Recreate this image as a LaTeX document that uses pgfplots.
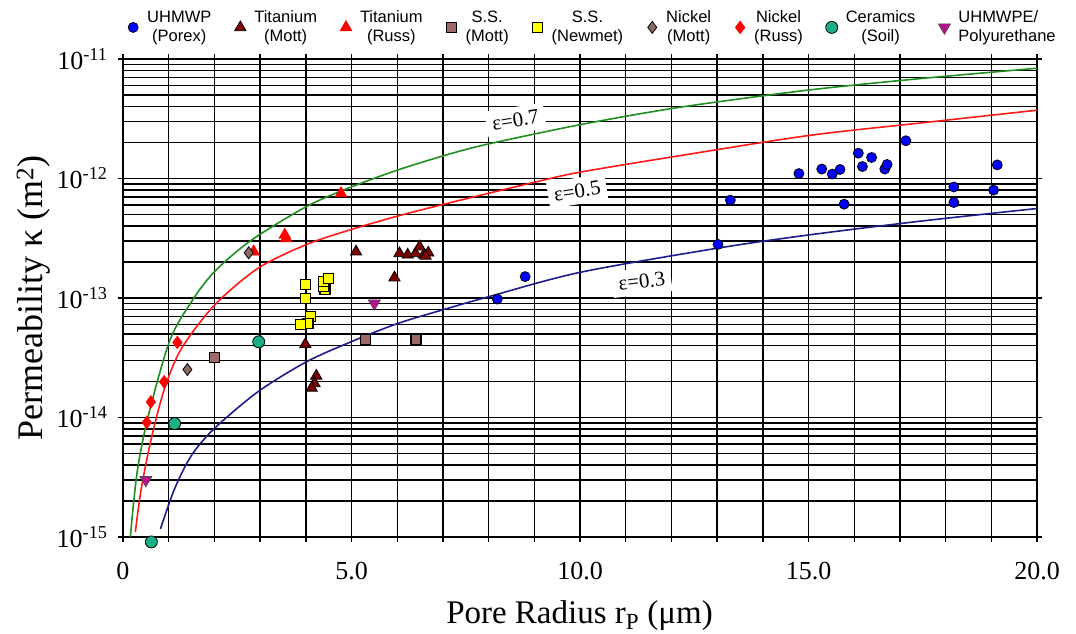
\documentclass[border=0pt]{standalone}
\usepackage{pgfplots}
\pgfplotsset{compat=1.18}
\usepackage{fontspec}
\setmainfont{Liberation Serif}
\newfontfamily\legfont{Liberation Sans}
\definecolor{cBlue}{HTML}{0000FF}
\definecolor{cDRed}{HTML}{7F0000}
\definecolor{cRed}{HTML}{FF0000}
\definecolor{cSSM}{HTML}{9C6A6A}
\definecolor{cYel}{HTML}{FFFF00}
\definecolor{cNiM}{HTML}{8B6B61}
\definecolor{cCer}{HTML}{1AAF87}
\definecolor{cMag}{HTML}{B4148C}
\definecolor{cGreenL}{HTML}{1F8F1F}
\definecolor{cRedL}{HTML}{FF1A1A}
\definecolor{cNavyL}{HTML}{1C1C8C}
\newcommand{\lent}[1]{\begin{tabular}{@{}c@{}}#1\end{tabular}\hspace*{13pt}}
\begin{document}
\begin{tikzpicture}
\path[use as bounding box] (-123pt,-97pt) rectangle (953pt,537pt);
\begin{axis}[
  scale only axis, width=914pt, height=478pt,
  xmin=0, xmax=20, ymin=1e-15, ymax=1e-11, ymode=log,
  xtick={0,1,...,20},
  xticklabels={0,,,,,5.0,,,,,10.0,,,,,15.0,,,,,20.0},
  ytick={1e-15,1e-14,1e-13,1e-12,1e-11},
  yticklabels={10\textsuperscript{-15},10\textsuperscript{-14},10\textsuperscript{-13},10\textsuperscript{-12},10\textsuperscript{-11}},
  minor ytick={2e-15,3e-15,4e-15,5e-15,6e-15,7e-15,8e-15,9e-15,
               2e-14,3e-14,4e-14,5e-14,6e-14,7e-14,8e-14,9e-14,
               2e-13,3e-13,4e-13,5e-13,6e-13,7e-13,8e-13,9e-13,
               2e-12,3e-12,4e-12,5e-12,6e-12,7e-12,8e-12,9e-12},
  grid=both,
  major grid style={black, line width=1.4pt},
  minor grid style={black, line width=1.4pt},
  axis line style={black, line width=1.6pt},
  tick align=center, major tick length=10pt, minor tick length=0pt,
  tick style={black, line width=1.4pt},
  ticklabel style={font=\fontsize{26}{30}\selectfont},
  xticklabel style={yshift=-17pt},
  yticklabel style={xshift=-7pt},
  xlabel={Pore Radius r\textsubscript{P} (μm)},
  ylabel={Permeability κ (m\textsuperscript{2})},
  xlabel style={font=\fontsize{33}{38}\selectfont, at={(axis description cs:0.4995,-0.164)}, anchor=center},
  ylabel style={font=\fontsize{36}{40}\selectfont, at={(axis description cs:-0.098,0.5)}, anchor=center},
  clip=false,
  legend columns=9,
  legend style={font=\legfont\fontsize{16.5}{19}\selectfont, draw=none, fill=none,
    at={(axis description cs:0,1)}, anchor=south west, xshift=-7pt, yshift=21pt},
  legend image code/.code={\path[draw=none,fill=none] (0pt,-6pt) -- (26pt,-6pt);
     \draw[mark repeat=2,mark phase=2,#1] plot coordinates {(0pt,-6pt) (14pt,-6pt) (26pt,-6pt)};},
]
% model curves
\addplot[forget plot, cGreenL, line width=1.6pt, smooth] coordinates {
 (0.16,1.0e-15) (0.31,3.50e-15) (0.55,1.02e-14) (1.02,4.37e-14) (1.5,9.33e-14) (2.0,1.66e-13)
 (2.81,3.05e-13) (4.01,5.81e-13) (4.92,8.28e-13) (6.01,1.178e-12) (7.1,1.585e-12) (7.98,1.94e-12)
 (10.0,2.82e-12) (12.17,3.94e-12) (15.0,5.50e-12) (17.5,6.89e-12) (20.0,8.37e-12)};
\addplot[forget plot, cRedL, line width=1.6pt, smooth] coordinates {
 (0.27,1.10e-15) (0.40,2.54e-15) (0.62,6.7e-15) (0.91,1.75e-14) (1.28,3.78e-14) (2.0,8.7e-14)
 (2.95,1.77e-13) (4.01,2.80e-13) (4.99,3.74e-13) (6.01,4.85e-13) (7.1,6.2e-13) (9.0,9.3e-13)
 (10.0,1.13e-12) (12.17,1.55e-12) (15.0,2.29e-12) (17.5,2.93e-12) (20.0,3.73e-12)};
\addplot[forget plot, cNavyL, line width=1.6pt, smooth] coordinates {
 (0.82,1.17e-15) (1.13,2.54e-15) (1.5,4.83e-15) (2.0,8.1e-15) (2.95,1.64e-14) (4.01,2.92e-14)
 (4.99,4.30e-14) (6.01,6.12e-14) (7.1,8.18e-14) (7.98,1.02e-13) (10.0,1.64e-13) (13.0,2.61e-13)
 (15.0,3.37e-13) (17.5,4.42e-13) (20.0,5.61e-13)};
\node[fill=white, rotate=9, font=\fontsize{21}{24}\selectfont, inner sep=6pt] at (axis cs:8.59,3.08e-12) {ε=0.7};
\node[fill=white, rotate=9, font=\fontsize{21}{24}\selectfont, inner sep=6pt] at (axis cs:9.94,7.85e-13) {ε=0.5};
\node[fill=white, rotate=7, font=\fontsize{21}{24}\selectfont, inner sep=6pt] at (axis cs:11.35,1.38e-13) {ε=0.3};
% data
\addplot[only marks, mark=*, mark size=5pt, mark options={fill=cBlue, draw=black, line width=0.8pt}] coordinates {
 (8.19,9.8e-14) (8.80,1.51e-13) (13.02,2.81e-13) (13.29,6.6e-13) (14.79,1.10e-12) (15.29,1.20e-12)
 (15.52,1.09e-12) (15.69,1.19e-12) (15.78,6.1e-13) (16.09,1.63e-12) (16.18,1.26e-12) (16.38,1.50e-12)
 (16.67,1.20e-12) (16.72,1.31e-12) (17.13,2.07e-12) (18.18,8.5e-13) (18.18,6.3e-13) (19.05,8.0e-13)
 (19.13,1.30e-12)};
\addlegendentry{\lent{UHMWP\\(Porex)}}
\addplot[only marks, mark=triangle*, mark size=6.5pt, mark options={fill=cDRed, draw=black, line width=0.8pt}] coordinates {
 (5.10,2.44e-13) (6.05,2.36e-13) (6.23,2.30e-13) (6.40,2.36e-13) (6.49,2.69e-13) (6.58,2.30e-13)
 (6.68,2.39e-13) (6.62,2.25e-13) (5.94,1.48e-13) (3.99,4.1e-14) (4.23,2.23e-14) (4.19,1.93e-14)
 (4.13,1.77e-14)};
\addlegendentry{\lent{Titanium\\(Mott)}}
\addplot[only marks, mark=triangle*, mark size=7pt, mark options={fill=cRed, draw=cRed}] coordinates {
 (4.77,7.5e-13) (3.54,3.37e-13) (3.57,3.16e-13) (2.86,2.44e-13)};
\addlegendentry{\lent{Titanium\\(Russ)}}
\addplot[only marks, mark=square*, mark size=5pt, mark options={fill=cSSM, draw=black, line width=1.2pt}] coordinates {
 (2.0,3.2e-14) (5.3,4.5e-14) (6.41,4.5e-14)};
\addlegendentry{\lent{S.S.\\(Mott)}}
\addplot[only marks, mark=square*, mark size=5pt, mark options={fill=cYel, draw=black, line width=1.2pt}] coordinates {
 (4.0,1.30e-13) (4.0,9.9e-14) (4.1,6.97e-14) (4.05,6.1e-14) (3.88,6.0e-14) (4.42,1.18e-13)
 (4.39,1.25e-13) (4.39,1.37e-13) (4.5,1.45e-13)};
\addlegendentry{\lent{S.S.\\(Newmet)}}
\addplot[only marks, mark=diamond*, mark size=6pt, mark options={fill=cNiM, draw=black, line width=0.8pt}] coordinates {
 (2.75,2.39e-13) (1.41,2.52e-14)};
\addlegendentry{\lent{Nickel\\(Mott)}}
\addplot[only marks, mark=diamond*, mark size=6.5pt, mark options={fill=cRed, draw=cRed}] coordinates {
 (1.19,4.25e-14) (0.9,1.99e-14) (0.61,1.35e-14) (0.52,9.1e-15)};
\addlegendentry{\lent{Nickel\\(Russ)}}
\addplot[only marks, mark=*, mark size=6pt, mark options={fill=cCer, draw=black, line width=0.8pt}] coordinates {
 (2.97,4.3e-14) (1.13,8.9e-15) (0.62,9.1e-16)};
\addlegendentry{\lent{Ceramics\\(Soil)}}
\addplot[only marks, mark=triangle*, mark size=7pt, mark options={fill=cMag, draw=black!70, line width=0.6pt, rotate=180}] coordinates {
 (5.50,9.0e-14) (0.5,3.0e-15)};
\addlegendentry{\begin{tabular}{@{}l@{}}UHMWPE/\\Polyurethane\end{tabular}}
\end{axis}
\end{tikzpicture}
\end{document}
